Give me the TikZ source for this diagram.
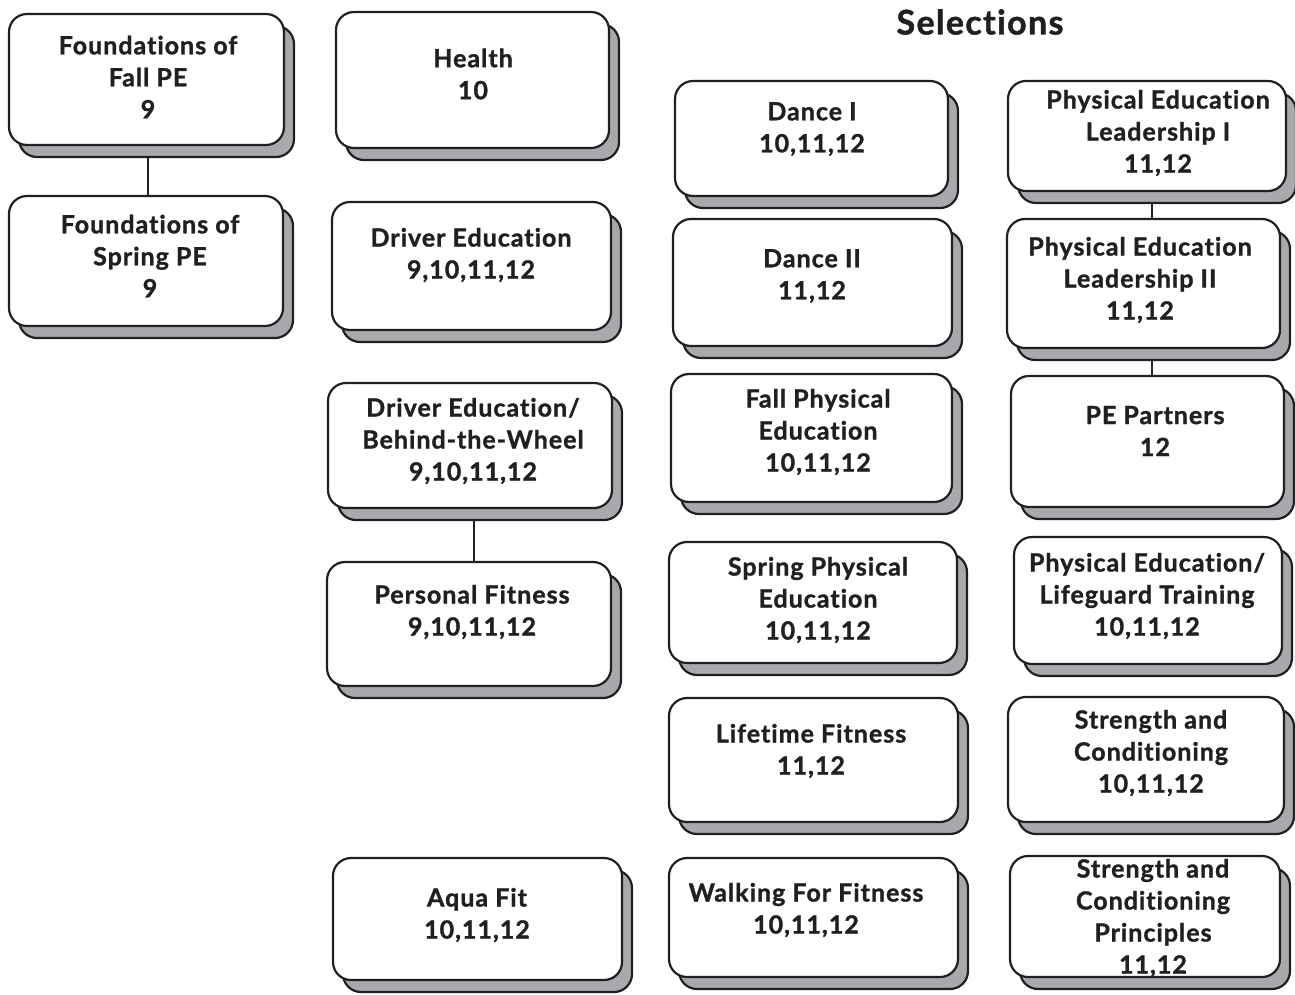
\documentclass[tikz,border=0pt]{standalone}
\usepackage{fontspec}
\setmainfont{Lato}[Ligatures=NoCommon, BoldFeatures={FakeBold=1.3, LetterSpace=4}]
\usetikzlibrary{shadows,backgrounds}
\definecolor{ink}{HTML}{231F20}
\definecolor{shadowgray}{HTML}{A7A9AC}
\tikzset{
  cbox/.style={draw=ink, fill=white, rounded corners=18pt, inner sep=0pt,
    copy shadow={shadow xshift=10pt, shadow yshift=-12pt, fill=shadowgray, draw=ink}},
  ctext/.style={align=center, text=ink, inner sep=0pt,
    font=\fontsize{25}{32}\selectfont\bfseries},
  link/.style={draw=ink, line width=2pt}
}
\newcommand\cbox[5]{%
  \node[cbox, minimum width={(#4-#2)*1pt}, minimum height={(#5-#3)*1pt}]
    (#1) at ({(#2+#4)/2},{-(#3+#5)/2}) {};}
\newcommand\ctxt[4]{\node[ctext] (#1) at (#2,-#3) {#4};}
\begin{document}
\begin{tikzpicture}[x=1pt,y=1pt,line width=2.2pt]
\useasboundingbox (0,0) rectangle (1295,-994);
% left column
\cbox{fall}{9}{14}{284}{145}
\ctxt{fallT}{148}{77}{Foundations of\\Fall PE\\9}
\cbox{spring}{9}{196}{283}{326}
\ctxt{springT}{150}{256}{Foundations of\\Spring PE\\9}
% second column
\cbox{health}{336}{12}{609}{148}
\ctxt{healthT}{473}{74}{Health\\10}
\cbox{drv}{332}{202}{611}{330}
\ctxt{drvT}{471}{255}{Driver Education\\9,10,11,12}
\cbox{btw}{328}{383}{612}{508}
\ctxt{btwT}{473}{441}{Driver Education/\\Behind-the-Wheel\\9,10,11,12}
\cbox{pers}{327}{562}{611}{686}
\ctxt{persT}{472}{612}{Personal Fitness\\9,10,11,12}
\cbox{aqua}{333}{858}{622}{980}
\ctxt{aquaT}{477}{915}{Aqua Fit\\10,11,12}
% title
\node[text=ink, font=\fontsize{34}{40}\selectfont\bfseries] (sel) at (980,-22) {Selections};
% middle column
\cbox{d1}{675}{81}{948}{196}
\ctxt{d1T}{812}{129}{Dance I\\10,11,12}
\cbox{d2}{673}{219}{952}{346}
\ctxt{d2T}{812}{276}{Dance II\\11,12}
\cbox{fpe}{671}{374}{952}{502}
\ctxt{fpeT}{818}{432}{Fall Physical\\Education\\10,11,12}
\cbox{spe}{669}{542}{957}{663}
\ctxt{speT}{818}{600}{Spring Physical\\Education\\10,11,12}
\cbox{life}{669}{698}{958}{822}
\ctxt{lifeT}{811}{751}{Lifetime Fitness\\11,12}
\cbox{walk}{669}{858}{958}{977}
\ctxt{walkT}{806}{910}{Walking For Fitness\\10,11,12}
% right column
\cbox{pelA}{1008}{81}{1286}{191}
\ctxt{pelAT}{1158}{133}{Physical Education\\Leadership I\\11,12}
\cbox{pelB}{1007}{219}{1280}{348}
\ctxt{pelBT}{1140}{280}{Physical Education\\Leadership II\\11,12}
\cbox{part}{1011}{376}{1284}{507}
\ctxt{partT}{1155}{431}{PE Partners\\12}
\cbox{lg}{1014}{537}{1282}{664}
\ctxt{lgT}{1147}{596}{Physical Education/\\Lifeguard Training\\10,11,12}
\cbox{sc}{1008}{697}{1284}{822}
\ctxt{scT}{1151}{753}{Strength and\\Conditioning\\10,11,12}
\cbox{scp}{1010}{856}{1280}{977}
\ctxt{scpT}{1153}{918}{Strength and\\Conditioning\\Principles\\11,12}
% connectors
\begin{scope}[on background layer]
\draw[link] ([xshift=1.5pt]fall.south) -- ([xshift=1.5pt]fall.south |- spring.north);
\draw[link] ([xshift=4pt]btw.south) -- ([xshift=4pt]btw.south |- pers.north);
\draw[link] ([xshift=5pt]pelA.south) -- ([xshift=5pt]pelA.south |- pelB.north);
\draw[link] ([xshift=8.5pt]pelB.south) -- ([xshift=8.5pt]pelB.south |- part.north);
\end{scope}
\end{tikzpicture}
\end{document}
